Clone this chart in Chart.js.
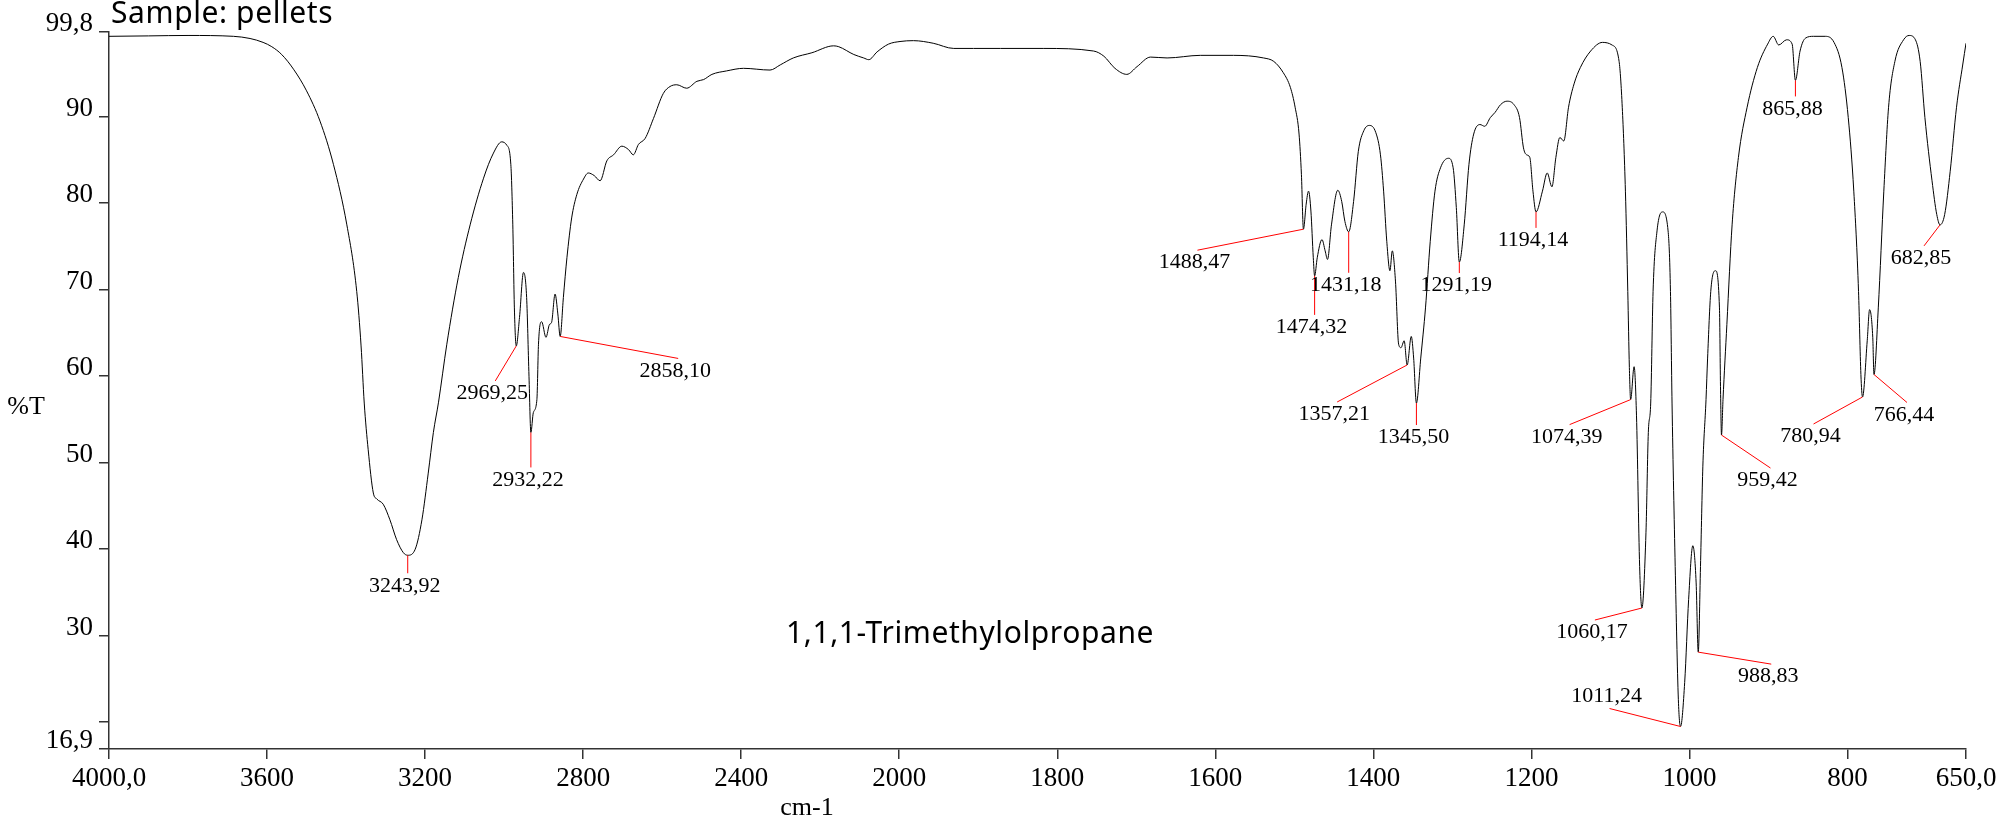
<!DOCTYPE html>
<html>
<head>
<meta charset="utf-8">
<script src="https://cdn.jsdelivr.net/npm/chart.js@4/dist/chart.umd.min.js"></script>
<style>
html, body { margin: 0; padding: 0; background: #fff; }
canvas { display: block; }
</style>
</head>
<body>
<canvas id="ir" width="2003" height="822"></canvas>
<script>
// IR spectrum: wavenumber (cm-1) and %T
const wavenumbers = [
    4000, 3900, 3800, 3685, 3643, 3610, 3588, 3563, 3533, 3500,
    3466, 3432, 3398, 3373, 3362, 3354, 3344, 3331, 3322, 3306,
    3289, 3272, 3255, 3243.92, 3225, 3208, 3192, 3179, 3166, 3145,
    3116, 3086, 3052, 3027, 3006, 2993, 2983, 2978, 2974, 2969.25,
    2961, 2951, 2943, 2937, 2932.22, 2926, 2917, 2913, 2905, 2894,
    2885, 2880, 2871, 2864, 2858.10, 2850, 2841, 2829, 2816, 2799,
    2787, 2772, 2757, 2740, 2723, 2702, 2685, 2673, 2660, 2643,
    2622, 2597, 2580, 2563, 2538, 2512, 2495, 2474, 2437, 2394,
    2327, 2301, 2268, 2221, 2166, 2153, 2115, 2090, 2077, 2056,
    2027, 1999, 1982, 1957, 1931, 1906, 1872, 1817, 1754, 1741,
    1727, 1712, 1699, 1682, 1661, 1619, 1577, 1539, 1526, 1514,
    1505, 1499, 1494, 1491, 1488.47, 1485, 1482, 1479, 1476, 1474.32,
    1471, 1465, 1461, 1458, 1453, 1445, 1440, 1436, 1431.18, 1425,
    1419, 1412, 1405, 1397, 1391, 1387, 1383, 1379, 1376, 1372,
    1368, 1365, 1361, 1357.21, 1352, 1349, 1345.50, 1340, 1334, 1328,
    1322, 1315, 1305, 1299, 1295, 1291.19, 1285, 1279, 1273, 1265,
    1259, 1252, 1246, 1239, 1231, 1222, 1215, 1210, 1206, 1202,
    1198, 1194.14, 1186, 1180, 1174, 1169, 1164, 1159, 1153, 1146,
    1138, 1125, 1110, 1098, 1089, 1085, 1081, 1078, 1076, 1074.39,
    1070, 1067, 1063, 1060.17, 1055, 1052, 1049, 1046, 1041, 1034,
    1027, 1024, 1022, 1018, 1014, 1011.24, 1006, 1001, 995.7, 991.5,
    988.83, 986, 983, 979, 977, 973, 967, 962, 960.6, 959.42,
    957.5, 952.6, 946, 938, 927, 914, 901, 894, 887, 877,
    870, 865.88, 860, 853, 843, 828, 817, 807, 799, 792,
    786, 783, 780.94, 775, 772, 768, 766.44, 761, 754, 748,
    740, 729, 722, 714, 708, 702, 693, 687, 682.85, 677,
    670, 662, 654, 650
];
const transmittance = [
    99.3, 99.35, 99.4, 99.3, 99.05, 98.6, 98.1, 97.2, 95.5, 93.0,
    89.5, 84.5, 77.5, 69.8, 63.5, 56.9, 51.5, 46.5, 45.8, 45.2,
    43.4, 41.1, 39.6, 39.3, 40.0, 43.4, 48.8, 53.5, 57.0, 63.7,
    71.4, 77.5, 82.9, 85.8, 87.1, 86.7, 84.5, 77.5, 67.9, 63.5,
    66.8, 72.0, 69.1, 60.0, 53.5, 55.8, 57.3, 63.7, 66.3, 64.5,
    66.0, 66.2, 69.5, 67.2, 64.6, 69.1, 73.7, 78.3, 81.0, 82.8,
    83.5, 83.2, 82.6, 84.9, 85.6, 86.6, 86.2, 85.6, 86.8, 87.5,
    89.8, 92.7, 93.5, 93.7, 93.3, 94.1, 94.3, 94.9, 95.3, 95.6,
    95.4, 96.0, 96.8, 97.4, 98.2, 98.1, 97.2, 96.8, 96.6, 97.5,
    98.4, 98.7, 98.8, 98.5, 97.9, 97.9, 97.9, 97.9, 97.6, 97.0,
    95.6, 94.9, 95.8, 96.9, 96.8, 97.1, 97.1, 96.8, 96.4, 95.1,
    93.4, 91.1, 88.0, 83.3, 77.0, 79.9, 81.4, 79.1, 73.7, 71.6,
    73.7, 75.8, 74.5, 73.5, 77.5, 81.5, 80.2, 77.9, 76.7, 80.2,
    86.0, 88.4, 89.0, 88.2, 85.6, 81.4, 75.6, 72.2, 74.5, 71.0,
    63.7, 63.3, 64.1, 61.3, 64.6, 62.1, 56.9, 62.1, 67.9, 75.6,
    81.4, 84.1, 85.2, 84.1, 79.5, 73.2, 77.5, 84.5, 88.0, 89.1,
    88.9, 89.9, 90.5, 91.4, 91.8, 91.4, 89.9, 86.4, 85.6, 85.3,
    81.4, 79.0, 81.4, 83.5, 81.9, 85.3, 87.6, 87.2, 91.1, 93.8,
    95.7, 97.6, 98.6, 98.3, 96.4, 91.1, 81.4, 69.8, 61.0, 57.3,
    61.1, 55.5, 38.0, 33.2, 41.9, 53.5, 56.9, 69.8, 76.8, 79.0,
    76.8, 69.8, 56.9, 38.0, 22.6, 19.5, 24.6, 34.2, 40.4, 36.1,
    28.1, 38.0, 49.6, 57.3, 62.1, 69.8, 72.2, 67.9, 58.3, 53.2,
    57.3, 66.0, 77.5, 85.3, 91.1, 95.7, 98.4, 99.3, 98.3, 98.9,
    98.4, 94.2, 97.6, 99.1, 99.3, 99.3, 98.6, 95.7, 89.9, 81.4,
    69.8, 60.2, 57.6, 64.1, 67.7, 64.5, 60.2, 67.9, 81.4, 91.1,
    96.4, 98.9, 99.4, 98.9, 96.4, 89.9, 82.6, 78.7, 77.5, 78.7,
    83.7, 91.1, 96.1, 98.5
];

// picked peaks
const peakWavenumbers = [
    3243.92, 2969.25, 2932.22, 2858.10, 1488.47, 1474.32, 1431.18, 1357.21, 1345.50, 1291.19,
    1194.14, 1074.39, 1060.17, 1011.24, 988.83, 959.42, 865.88, 780.94, 766.44, 682.85
];
const peakTransmittance = [
    39.3, 63.5, 53.5, 64.6, 77.0, 71.6, 76.7, 61.3, 56.9, 73.2,
    79.0, 57.3, 33.2, 19.5, 28.1, 53.2, 94.2, 57.6, 60.2, 77.5
];

const xTickValues = [4000, 3600, 3200, 2800, 2400, 2000, 1800, 1600, 1400, 1200, 1000, 800, 650];
const xTickLabels = ['4000,0', '3600', '3200', '2800', '2400', '2000', '1800', '1600', '1400', '1200', '1000', '800', '650,0'];
const yTickValues = [16.9, 20, 30, 40, 50, 60, 70, 80, 90, 99.8];
const yTickLabels = ['16,9', '', '30', '40', '50', '60', '70', '80', '90', '99,8'];

// where each red leader line ends, px from its peak
const leaderOffsets = [
    [0, 18], [-21, 35], [0, 35], [118, 22], [-106, 21], [0, 39], [0, 41], [-70, 37], [0, 22], [0, 11],
    [0, 16], [-61, 25], [-47, 12], [-71, -18], [73, 12], [49, 33], [0, 16], [-49, 27], [33, 28], [-16, 21]
];

// the wavenumber axis is compressed 2x above 2000 cm-1
function axisPos(w) {
    return w > 2000 ? 2000 + (w - 2000) / 2 : w;
}

const serif = 'Liberation Serif';
const axisColor = '#333';

const peakLabels = {
    id: 'peakLabels',
    afterDatasetsDraw(chart) {
        const { ctx, scales: { x, y } } = chart;
        ctx.save();
        ctx.strokeStyle = '#ff0000';
        ctx.lineWidth = 1;
        ctx.fillStyle = '#000';
        ctx.font = '22px "' + serif + '"';
        ctx.textAlign = 'center';
        ctx.textBaseline = 'middle';
        peakWavenumbers.forEach((w, i) => {
            const px = x.getPixelForValue(axisPos(w));
            const py = y.getPixelForValue(peakTransmittance[i]);
            const [dx, dy] = leaderOffsets[i];
            ctx.beginPath();
            ctx.moveTo(px, py);
            ctx.lineTo(px + dx, py + dy);
            ctx.stroke();
            const ty = dy < 0 ? py + dy - 12.5 : py + dy + 12.5;
            ctx.fillText(w.toFixed(2).replace('.', ','), px + dx - 3, ty);
        });
        ctx.restore();
    }
};

const captions = {
    id: 'captions',
    afterDraw(chart) {
        const { ctx, chartArea } = chart;
        ctx.save();
        ctx.fillStyle = '#000';
        ctx.textBaseline = 'alphabetic';
        ctx.textAlign = 'left';
        ctx.font = '30px "Noto Sans"';
        ctx.letterSpacing = '0.6px';
        ctx.fillText('Sample: pellets', chartArea.left + 2, 23);
        ctx.fillText('1,1,1-Trimethylolpropane', 786, 643);
        ctx.letterSpacing = '0px';
        ctx.font = '26px "' + serif + '"';
        ctx.textAlign = 'center';
        ctx.textBaseline = 'middle';
        ctx.fillText('%T', 26, 407);
        ctx.fillText('cm-1', 807, 808);
        ctx.restore();
    }
};

const ctx = document.getElementById('ir').getContext('2d');

new Chart(ctx, {
    type: 'line',
    data: {
        datasets: [{
            data: wavenumbers.map((w, i) => ({ x: axisPos(w), y: transmittance[i] })),
            borderColor: '#000',
            borderWidth: 1,
            pointRadius: 0,
            fill: false,
            cubicInterpolationMode: 'monotone'
        }]
    },
    options: {
        responsive: false,
        animation: false,
        layout: { padding: { top: 32, right: 37, bottom: 0, left: 0 } },
        plugins: {
            legend: { display: false },
            tooltip: { enabled: false }
        },
        scales: {
            x: {
                type: 'linear',
                reverse: true,
                min: axisPos(650),
                max: axisPos(4000),
                afterBuildTicks: s => { s.ticks = xTickValues.map(v => ({ value: axisPos(v) })); },
                afterFit: s => { s.height = 73; },
                ticks: {
                    autoSkip: false,
                    maxRotation: 0,
                    padding: 4,
                    color: '#000',
                    font: { family: serif, size: 27 },
                    callback: (v, i) => xTickLabels[i]
                },
                grid: { drawOnChartArea: false, tickLength: 10, color: axisColor, lineWidth: 1.5 },
                border: { color: axisColor, width: 1.5 }
            },
            y: {
                min: 16.9,
                max: 99.8,
                afterBuildTicks: s => { s.ticks = yTickValues.map(v => ({ value: v })); },
                afterFit: s => { s.width = 109; },
                ticks: {
                    padding: 6,
                    labelOffset: -8,
                    color: '#000',
                    font: { family: serif, size: 27 },
                    callback: (v, i) => yTickLabels[i]
                },
                grid: { drawOnChartArea: false, tickLength: 10, color: axisColor, lineWidth: 1.5 },
                border: { color: axisColor, width: 1.5 }
            }
        }
    },
    plugins: [peakLabels, captions]
});
</script>
</body>
</html>
